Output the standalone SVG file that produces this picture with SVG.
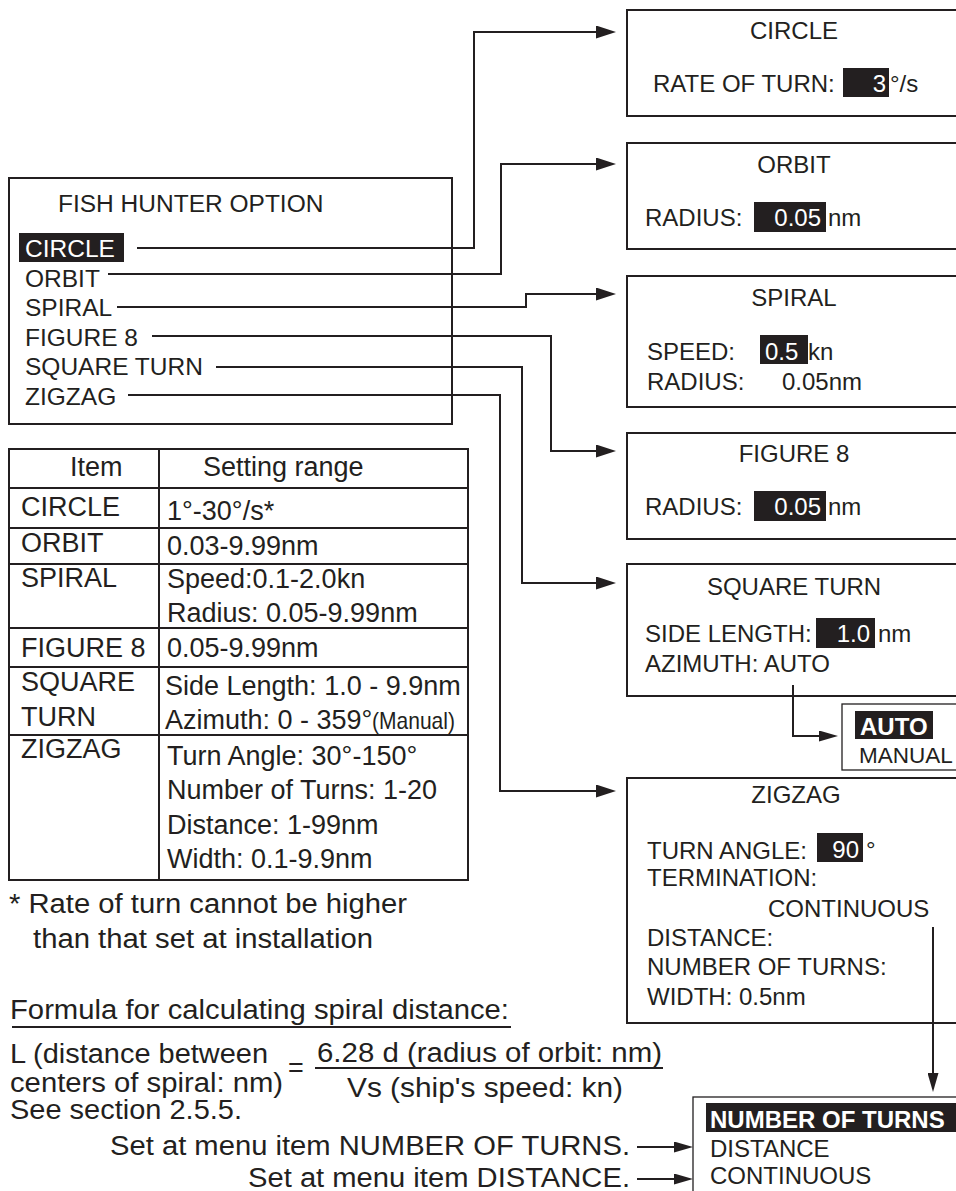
<svg xmlns="http://www.w3.org/2000/svg" width="956" height="1191" viewBox="0 0 956 1191">
<defs>
<style>
text{font-family:"Liberation Sans",Arial,sans-serif;fill:#231f20}
.m{font-size:24.5px}
.b{font-size:24px}
.t{font-size:27px}
.f{font-size:27px}
.w{fill:#fff}
.bold{font-weight:bold}
.box{fill:none;stroke:#231f20;stroke-width:2}
.thin{fill:none;stroke:#231f20;stroke-width:1.3}
.hl{fill:#231f20}
.ln{fill:none;stroke:#231f20;stroke-width:2}
.c{text-anchor:middle}
</style>
<marker id="arr" markerUnits="userSpaceOnUse" markerWidth="20" markerHeight="13" refX="12" refY="6.5" orient="auto">
<path d="M0,0 L20,6.5 L0,13 Z" fill="#231f20"/>
</marker>
<marker id="arrS" markerUnits="userSpaceOnUse" markerWidth="19" markerHeight="11" refX="12" refY="5.5" orient="auto">
<path d="M0,0 L19,5.5 L0,11 Z" fill="#231f20"/>
</marker>
</defs>
<rect width="956" height="1191" fill="#fff"/>

<g id="menu">
<rect class="box" x="9" y="178" width="443" height="246"/>
<text class="m" x="58" y="212">FISH HUNTER OPTION</text>
<rect class="hl" x="19" y="233" width="105" height="29"/>
<text class="m w" x="25" y="257">CIRCLE</text>
<text class="m" x="25" y="287">ORBIT</text>
<text class="m" x="25" y="316">SPIRAL</text>
<text class="m" x="25" y="346">FIGURE 8</text>
<text class="m" x="25" y="375">SQUARE TURN</text>
<text class="m" x="25" y="405">ZIGZAG</text>
</g>

<g id="table">
<rect class="box" x="9" y="449" width="459" height="431"/>
<path class="ln" d="M159,449 V880 M9,488 H468 M9,528 H468 M9,564 H468 M9,628 H468 M9,667 H468 M9,735 H468"/>
<text class="t" x="70" y="476">Item</text>
<text class="t" x="203" y="476">Setting range</text>
<text class="t" x="21" y="516">CIRCLE</text>
<text class="t" x="167" y="520">1°-30°/s*</text>
<text class="t" x="21" y="552">ORBIT</text>
<text class="t" x="167" y="555">0.03-9.99nm</text>
<text class="t" x="21" y="587">SPIRAL</text>
<text class="t" x="167" y="588">Speed:0.1-2.0kn</text>
<text class="t" x="167" y="622">Radius: 0.05-9.99nm</text>
<text class="t" x="21" y="657">FIGURE 8</text>
<text class="t" x="167" y="657">0.05-9.99nm</text>
<text class="t" x="21" y="691">SQUARE</text>
<text class="t" x="21" y="726">TURN</text>
<text class="t" x="165" y="695">Side Length: 1.0 - 9.9nm</text>
<text class="t" x="165" y="729">Azimuth: 0 - 359°</text>
<text x="372" y="729" font-size="24" textLength="83" lengthAdjust="spacingAndGlyphs">(Manual)</text>
<text class="t" x="21" y="758">ZIGZAG</text>
<text class="t" x="167" y="765">Turn Angle: 30°-150°</text>
<text class="t" x="167" y="799">Number of Turns: 1-20</text>
<text class="t" x="167" y="834">Distance: 1-99nm</text>
<text class="t" x="167" y="868">Width: 0.1-9.9nm</text>
</g>

<g id="footnote">
<text class="f" x="9" y="913" textLength="398" lengthAdjust="spacingAndGlyphs">* Rate of turn cannot be higher</text>
<text class="f" x="33" y="948" textLength="340" lengthAdjust="spacingAndGlyphs">than that set at installation</text>
</g>

<g id="formula">
<text class="f" x="10" y="1019" textLength="499" lengthAdjust="spacingAndGlyphs">Formula for calculating spiral distance:</text>
<line class="ln" x1="12" y1="1027" x2="511" y2="1027"/>
<text class="f" x="10" y="1063" textLength="258" lengthAdjust="spacingAndGlyphs">L (distance between</text>
<text class="f" x="10" y="1092" textLength="273" lengthAdjust="spacingAndGlyphs">centers of spiral: nm)</text>
<text class="f" x="10" y="1119" textLength="232" lengthAdjust="spacingAndGlyphs">See section 2.5.5.</text>
<text class="f" x="288" y="1077">=</text>
<text class="f" x="317" y="1062" textLength="345" lengthAdjust="spacingAndGlyphs">6.28 d (radius of orbit: nm)</text>
<line class="ln" x1="315" y1="1068" x2="663" y2="1068"/>
<text class="f" x="347" y="1097" textLength="276" lengthAdjust="spacingAndGlyphs">Vs (ship's speed: kn)</text>
<text class="f" x="110" y="1155" textLength="520" lengthAdjust="spacingAndGlyphs">Set at menu item NUMBER OF TURNS.</text>
<text class="f" x="248" y="1187" textLength="382" lengthAdjust="spacingAndGlyphs">Set at menu item DISTANCE.</text>
</g>

<g id="circle">
<rect class="box" x="627" y="10" width="340" height="106"/>
<text class="b c" x="794" y="39">CIRCLE</text>
<text class="b" x="653" y="92">RATE OF TURN:</text>
<rect class="hl" x="843" y="68" width="46" height="29"/>
<text class="b w" x="886" y="92" text-anchor="end">3</text>
<text class="b" x="890" y="92">°/s</text>
</g>

<g id="orbit">
<rect class="box" x="627" y="143" width="340" height="106"/>
<text class="b c" x="794" y="173">ORBIT</text>
<text class="b" x="645" y="226">RADIUS:</text>
<rect class="hl" x="754" y="202" width="72" height="30"/>
<text class="b w" x="821" y="226" text-anchor="end">0.05</text>
<text class="b" x="828" y="226">nm</text>
</g>

<g id="spiral">
<rect class="box" x="627" y="276" width="340" height="131"/>
<text class="b c" x="794" y="306">SPIRAL</text>
<text class="b" x="647" y="360">SPEED:</text>
<rect class="hl" x="760" y="335" width="48" height="29"/>
<text class="b w" x="765" y="360">0.5</text>
<text class="b" x="808" y="360">kn</text>
<text class="b" x="647" y="390">RADIUS:</text>
<text class="b" x="782" y="390">0.05nm</text>
</g>

<g id="figure8">
<rect class="box" x="627" y="433" width="340" height="106"/>
<text class="b c" x="794" y="462">FIGURE 8</text>
<text class="b" x="645" y="515">RADIUS:</text>
<rect class="hl" x="754" y="491" width="72" height="30"/>
<text class="b w" x="821" y="515" text-anchor="end">0.05</text>
<text class="b" x="828" y="515">nm</text>
</g>

<g id="squareturn">
<rect class="box" x="627" y="564" width="340" height="132"/>
<text class="b c" x="794" y="595">SQUARE TURN</text>
<text class="b" x="645" y="642">SIDE LENGTH:</text>
<rect class="hl" x="816" y="618" width="59" height="30"/>
<text class="b w" x="870" y="642" text-anchor="end">1.0</text>
<text class="b" x="878" y="642">nm</text>
<text class="b" x="645" y="672">AZIMUTH: AUTO</text>
</g>

<g id="azimuth-options">
<rect class="thin" x="842" y="704" width="130" height="66"/>
<rect class="hl" x="855" y="711" width="78" height="28"/>
<text class="b bold w" x="860" y="735">AUTO</text>
<text x="859" y="763" font-size="22.5">MANUAL</text>
</g>

<g id="zigzag">
<rect class="box" x="627" y="778" width="340" height="245"/>
<text class="b c" x="796" y="803">ZIGZAG</text>
<text class="b" x="647" y="859">TURN ANGLE:</text>
<rect class="hl" x="817" y="833" width="46" height="29"/>
<text class="b w" x="859" y="858" text-anchor="end">90</text>
<text class="b" x="866" y="858">°</text>
<text class="b" x="647" y="886">TERMINATION:</text>
<text class="b" x="768" y="917">CONTINUOUS</text>
<text class="b" x="647" y="946">DISTANCE:</text>
<text class="b" x="647" y="975">NUMBER OF TURNS:</text>
<text class="b" x="647" y="1005">WIDTH: 0.5nm</text>
</g>

<g id="termination-options">
<rect class="thin" x="693" y="1097" width="300" height="120"/>
<rect class="hl" x="706" y="1103" width="260" height="29"/>
<text class="b bold w" x="710" y="1128">NUMBER OF TURNS</text>
<text class="b" x="710" y="1157">DISTANCE</text>
<text class="b" x="710" y="1184">CONTINUOUS</text>
</g>

<g id="connectors">
<path class="ln" d="M137,248 H474 V32 H608" marker-end="url(#arr)"/>
<path class="ln" d="M108,274 H501 V164 H608" marker-end="url(#arr)"/>
<path class="ln" d="M117,307 H526 V294 H608" marker-end="url(#arr)"/>
<path class="ln" d="M152,336 H551 V451 H608" marker-end="url(#arr)"/>
<path class="ln" d="M216,367 H522 V583 H608" marker-end="url(#arr)"/>
<path class="ln" d="M128,395 H500 V791 H608" marker-end="url(#arr)"/>
<path class="ln" d="M793,685 V736 H831" marker-end="url(#arrS)"/>
<path class="ln" d="M933,927 V1085" marker-end="url(#arrS)"/>
<path class="ln" d="M637,1147 H686" marker-end="url(#arrS)"/>
<path class="ln" d="M637,1179 H686" marker-end="url(#arrS)"/>
</g>
</svg>
